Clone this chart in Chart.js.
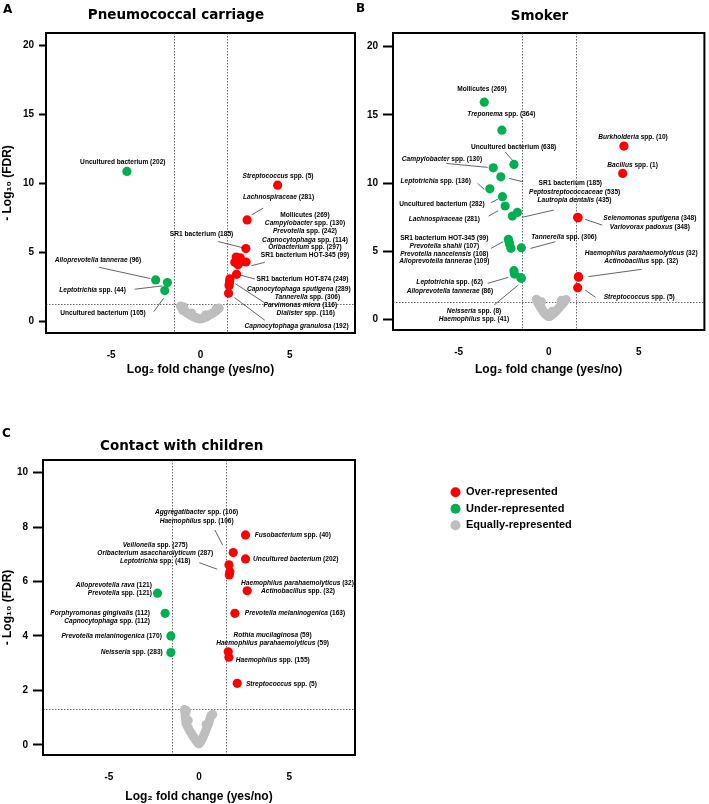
<!DOCTYPE html>
<html>
<head>
<meta charset="utf-8">
<script src="https://cdn.jsdelivr.net/npm/chart.js@4.4.0/dist/chart.umd.min.js"></script>
<style>
  body { margin: 0; background: #fff; width: 709px; height: 804px; position: relative; overflow: hidden; }
  canvas { position: absolute; }
</style>
</head>
<body>
<canvas id="chartA" width="360" height="380" style="left:0;top:0"></canvas>
<canvas id="chartB" width="359" height="380" style="left:350px;top:0"></canvas>
<canvas id="chartC" width="709" height="414" style="left:0;top:390px"></canvas>
<script>
// tick labels and thresholds
const X_TICKS = [-5, 0, 5];
const Y_TICKS_AB = [0, 5, 10, 15, 20];
const Y_TICKS_C = [0, 2, 4, 6, 8, 10];
const FC_CUT = 1.5;      // |log2 fold change|
const FDR_CUT = 1.301;   // -log10(0.05)
const SERIES = ['Equally-represented', 'Under-represented', 'Over-represented'];

// A: pneumococcal carriage  [log2 FC, -log10 FDR]
const carriageOver = [[4.32, 9.88], [2.61, 7.37], [2.54, 5.29], [2.0, 4.68], [2.22, 4.62], [1.92, 4.3],
  [2.3, 4.35], [2.55, 4.32], [2.1, 4.12], [2.02, 3.43], [1.65, 3.1], [1.63, 2.95], [1.61, 2.72],
  [1.6, 2.6], [1.57, 2.06]];
const carriageUnder = [[-4.12, 10.88], [-2.51, 3.02], [-1.85, 2.83], [-2.0, 2.25]];
const carriageEqual = [[-1.12, 1.12], [-1.05, 1.02], [-0.98, 0.95], [-1.0, 0.82], [-0.9, 0.86], [-0.85, 0.72],
  [-0.78, 0.66], [-0.7, 0.6], [-0.62, 0.52], [-0.55, 0.48], [-0.48, 0.42], [-0.4, 0.37], [-0.32, 0.32],
  [-0.25, 0.28], [-0.18, 0.25], [-0.1, 0.22], [-0.03, 0.2], [0.05, 0.21], [0.12, 0.24], [0.2, 0.28],
  [0.28, 0.32], [0.36, 0.38], [0.44, 0.44], [0.52, 0.5], [0.6, 0.56], [0.68, 0.62], [0.76, 0.68],
  [0.84, 0.76], [0.92, 0.84], [0.98, 0.92], [1.04, 0.98], [0.9, 0.95], [-0.95, 1.08], [0.3, 0.5], [-0.5, 0.62]];

// B: smoker
const smokerOver = [[4.18, 12.71], [4.11, 10.71], [1.61, 7.49], [1.63, 7.45], [1.65, 3.14], [1.66, 3.1], [1.61, 2.33]];
const smokerUnder = [[-3.58, 15.93], [-2.6, 13.88], [-1.93, 11.37], [-3.08, 11.12], [-2.66, 10.46], [-3.27, 9.58],
  [-2.57, 9.0], [-2.42, 8.32], [-1.74, 7.85], [-2.02, 7.58], [-2.24, 5.88], [-2.2, 5.68], [-2.17, 5.5],
  [-2.1, 5.22], [-1.52, 5.26], [-1.93, 3.58], [-1.9, 3.33], [-1.55, 3.08], [-1.52, 3.02]];
const smokerEqual = [[-0.68, 1.48], [-0.62, 1.38], [-0.6, 1.25], [-0.55, 1.12], [-0.5, 1.0], [-0.45, 0.9],
  [-0.4, 0.8], [-0.35, 0.7], [-0.3, 0.6], [-0.25, 0.5], [-0.2, 0.42], [-0.14, 0.35], [-0.08, 0.28],
  [-0.02, 0.22], [0.05, 0.22], [0.12, 0.28], [0.2, 0.36], [0.28, 0.45], [0.36, 0.55], [0.44, 0.66],
  [0.52, 0.78], [0.6, 0.9], [0.68, 1.02], [0.76, 1.14], [0.84, 1.26], [0.9, 1.38], [0.96, 1.46],
  [0.7, 1.4], [-0.4, 1.3], [0.2, 0.6]];

// C: contact with children
const contactOver = [[2.58, 7.71], [1.9, 7.06], [2.58, 6.83], [1.66, 6.61], [1.71, 6.36], [1.68, 6.24],
  [2.67, 5.66], [1.99, 4.83], [1.62, 3.42], [1.66, 3.22], [2.12, 2.26]];
const contactUnder = [[-2.3, 5.57], [-1.88, 4.83], [-1.56, 4.0], [-1.56, 3.39]];
const contactEqual = [[-0.8, 1.3], [-0.78, 1.18], [-0.76, 1.05], [-0.74, 0.92], [-0.72, 0.8], [-0.66, 0.7],
  [-0.58, 0.6], [-0.5, 0.5], [-0.42, 0.42], [-0.35, 0.34], [-0.28, 0.27], [-0.2, 0.2], [-0.13, 0.13],
  [-0.06, 0.07], [0, 0.04], [0.06, 0.08], [0.12, 0.15], [0.18, 0.23], [0.24, 0.31], [0.3, 0.4],
  [0.36, 0.5], [0.42, 0.6], [0.48, 0.7], [0.54, 0.8], [0.58, 0.9], [0.62, 1.0], [0.68, 1.08],
  [0.76, 1.12], [-0.7, 1.25], [-0.6, 0.9], [0.4, 0.75]];

// annotation text (_italic_), placed in data units: [text, x, y, align]
const carriageNotes = [
  ['Uncultured bacterium (202)', -4.35, 11.55, 'c'],
  ['_Streptococcus_ spp. (5)', 4.34, 10.5, 'c'],
  ['_Lachnospiraceae_ (281)', 4.37, 9.01, 'c'],
  ['Mollicutes (269)', 5.85, 7.73, 'c'],
  ['_Campylobacter_ spp. (130)', 5.85, 7.13, 'c'],
  ['_Prevotella_ spp. (242)', 5.85, 6.52, 'c'],
  ['_Capnocytophaga_ spp. (114)', 5.85, 5.92, 'c'],
  ['_Oribacterium_ spp. (297)', 5.85, 5.36, 'c'],
  ['SR1 bacterium HOT-345 (99)', 5.85, 4.78, 'c'],
  ['SR1 bacterium (185)', 0.06, 6.36, 'c'],
  ['SR1 bacterium HOT-874 (249)', 5.71, 3.07, 'c'],
  ['_Capnocytophaga sputigena_ (289)', 5.5, 2.35, 'c'],
  ['_Tannerella_ spp. (306)', 5.99, 1.77, 'c'],
  ['_Parvimonas micra_ (116)', 5.59, 1.16, 'c'],
  ['_Dialister_ spp. (116)', 5.89, 0.61, 'c'],
  ['_Capnocytophaga granulosa_ (192)', 5.38, -0.36, 'c'],
  ['_Alloprevotella tannerae_ (96)', -5.74, 4.47, 'c'],
  ['_Leptotrichia_ spp. (44)', -6.04, 2.3, 'c'],
  ['Uncultured bacterium (105)', -5.46, 0.65, 'c']
];
const carriageLeaders = [[2.86, 7.73, 3.51, 8.22], [2.85, 4.05, 3.6, 4.3], [0.99, 5.8, 2.48, 5.32],
  [2.2, 3.38, 3.05, 3.09], [1.95, 2.75, 3.55, 1.4], [1.9, 1.75, 3.6, 0.1],
  [-5.69, 3.94, -2.8, 3.12], [-3.68, 2.35, -2.13, 2.59], [-2.62, 0.72, -2.06, 1.7]];

const smokerNotes = [
  ['Mollicutes (269)', -3.71, 16.86, 'c'],
  ['_Treponema_ spp. (364)', -2.63, 15.05, 'c'],
  ['Uncultured bacterium (638)', -1.95, 12.61, 'c'],
  ['_Campylobacter_ spp. (130)', -5.93, 11.74, 'c'],
  ['_Leptotrichia_ spp. (136)', -6.28, 10.17, 'c'],
  ['SR1 bacterium (185)', 1.2, 9.98, 'c'],
  ['_Peptostreptococcaceae_ (535)', 1.44, 9.34, 'c'],
  ['_Lautropia dentalis_ (435)', 1.43, 8.75, 'c'],
  ['Uncultured bacterium (282)', -5.93, 8.46, 'c'],
  ['_Lachnospiraceae_ (281)', -5.8, 7.34, 'c'],
  ['SR1 bacterium HOT-345 (99)', -5.8, 5.99, 'c'],
  ['_Prevotella shahii_ (107)', -5.8, 5.41, 'c'],
  ['_Prevotella nancelensis_ (108)', -5.8, 4.8, 'c'],
  ['_Alloprevotella tannerae_ (109)', -5.8, 4.24, 'c'],
  ['_Tannerella_ spp. (306)', 0.85, 6.02, 'c'],
  ['_Leptotrichia_ spp. (62)', -5.5, 2.7, 'c'],
  ['_Alloprevotella tannerae_ (86)', -5.49, 2.09, 'c'],
  ['_Neisseria_ spp. (8)', -4.15, 0.62, 'c'],
  ['_Haemophilus_ spp. (41)', -4.15, 0.01, 'c'],
  ['_Burkholderia_ spp. (10)', 4.68, 13.35, 'c'],
  ['_Bacillus_ spp. (1)', 4.66, 11.34, 'c'],
  ['_Selenomonas sputigena_ (348)', 5.62, 7.41, 'c'],
  ['_Variovorax padoxus_ (348)', 5.62, 6.8, 'c'],
  ['_Haemophilus parahaemolyticus_ (32)', 5.14, 4.89, 'c'],
  ['_Actinobacillus_ spp. (32)', 5.14, 4.31, 'c'],
  ['_Streptococcus_ spp. (5)', 5.03, 1.67, 'c']
];
const smokerLeaders = [[-2.42, 12.29, -2.02, 11.68], [-5.69, 11.44, -3.39, 11.15], [-3.95, 9.98, -3.58, 9.54],
  [-2.2, 10.34, -1.43, 10.1], [-1.47, 7.49, 0.28, 8.02], [-3.21, 8.56, -2.81, 8.83], [-3.34, 7.58, -2.81, 7.97],
  [-3.21, 5.21, -2.53, 5.7], [-1.01, 5.21, 0.37, 5.7], [-3.39, 2.65, -2.24, 3.09], [-3.03, 1.06, -1.69, 2.53],
  [2.02, 7.34, 2.97, 6.92], [2.2, 3.14, 5.17, 3.68], [2.02, 2.16, 2.6, 1.63]];

const contactNotes = [
  ['_Aggregatibacter_ spp. (106)', -0.13, 8.53, 'c'],
  ['_Haemophilus_ spp. (106)', -0.13, 8.23, 'c'],
  ['_Fusobacterium_ spp. (40)', 3.09, 7.71, 'l'],
  ['_Uncultured bacterium_ (202)', 3.0, 6.81, 'l'],
  ['_Veillonella_ spp. (275)', -2.43, 7.34, 'c'],
  ['_Oribacterium asaccharolyticum_ (287)', -2.43, 7.03, 'c'],
  ['_Leptotrichia_ spp. (418)', -2.43, 6.73, 'c'],
  ['_Haemophilus parahaemolyticus_ (32)', 5.46, 5.93, 'c'],
  ['_Actinobacillus_ spp. (32)', 5.49, 5.65, 'c'],
  ['_Prevotella melaninogenica_ (163)', 2.54, 4.83, 'l'],
  ['_Rothia mucilaginosa_ (59)', 4.08, 4.04, 'c'],
  ['_Haemophilus parahaemolyticus_ (59)', 4.08, 3.73, 'c'],
  ['_Haemophilus_ spp. (155)', 2.04, 3.12, 'l'],
  ['_Streptococcus_ spp. (5)', 2.6, 2.24, 'l'],
  ['_Alloprevotella rava_ (121)', -2.61, 5.87, 'r'],
  ['_Prevotella_ spp. (121)', -2.61, 5.57, 'r'],
  ['_Porphyromonas gingivalis_ (112)', -2.72, 4.85, 'r'],
  ['_Capnocytophaga_ spp. (112)', -2.72, 4.56, 'r'],
  ['_Prevotella melaninogenica_ (170)', -2.06, 4.0, 'r'],
  ['_Neisseria_ spp. (283)', -2.01, 3.39, 'r']
];
const contactLeaders = [[0.88, 7.89, 1.31, 7.34], [0.02, 6.69, 1.01, 6.45]];

const COLORS = ['#bebebe', '#00b050', '#ff0000'];
const FONT = '"Liberation Sans", Arial, sans-serif';
const NOTE_SIZE = 6.6;

Chart.defaults.font.family = FONT;
Chart.defaults.color = '#000';

function drawRich(ctx, text, x, y, align) {
  const parts = text.split('_');
  const fonts = parts.map((p, i) => (i % 2 ? 'italic ' : '') + 'bold ' + NOTE_SIZE + 'px ' + FONT);
  const widths = parts.map((p, i) => { ctx.font = fonts[i]; return ctx.measureText(p).width; });
  const total = widths.reduce((s, w) => s + w, 0);
  let cx = align === 'r' ? x - total : align === 'c' ? x - total / 2 : x;
  parts.forEach((p, i) => { ctx.font = fonts[i]; ctx.fillText(p, cx, y); cx += widths[i]; });
}

const volcanoDecor = {
  id: 'volcanoDecor',
  beforeDatasetsDraw(chart, args, o) {
    const { ctx, chartArea: a, scales: { x, y } } = chart;
    ctx.save();
    ctx.strokeStyle = '#444';
    ctx.lineWidth = 0.8;
    ctx.setLineDash([1.5, 1.5]);
    ctx.beginPath();
    [-FC_CUT, FC_CUT].forEach(v => {
      const px = Math.round(x.getPixelForValue(v)) + 0.5;
      ctx.moveTo(px, a.top);
      ctx.lineTo(px, a.bottom);
    });
    const py = Math.round(y.getPixelForValue(FDR_CUT)) + 0.5;
    ctx.moveTo(a.left, py);
    ctx.lineTo(a.right, py);
    ctx.stroke();
    ctx.restore();
  },
  afterDatasetsDraw(chart, args, o) {
    const { ctx, scales: { x, y } } = chart;
    ctx.save();
    ctx.strokeStyle = '#222';
    ctx.lineWidth = 0.7;
    ctx.beginPath();
    o.leaders.forEach(([x1, y1, x2, y2]) => {
      ctx.moveTo(x.getPixelForValue(x1), y.getPixelForValue(y1));
      ctx.lineTo(x.getPixelForValue(x2), y.getPixelForValue(y2));
    });
    ctx.stroke();
    ctx.fillStyle = '#000';
    ctx.textBaseline = 'middle';
    ctx.textAlign = 'left';
    o.notes.forEach(([t, nx, ny, al]) => drawRich(ctx, t, x.getPixelForValue(nx), y.getPixelForValue(ny), al));
    ctx.restore();
  },
  afterDraw(chart, args, o) {
    const { ctx, chartArea: a } = chart;
    ctx.save();
    ctx.strokeStyle = '#000';
    ctx.lineWidth = 2;
    ctx.strokeRect(a.left, a.top, a.width, a.height);
    ctx.fillStyle = '#000';
    ctx.textBaseline = 'alphabetic';
    ctx.textAlign = 'center';
    ctx.font = 'bold 13.5px "DejaVu Sans", sans-serif';
    ctx.fillText(o.title, o.titleX, o.titleY);
    ctx.textAlign = 'left';
    ctx.font = 'bold 12px "DejaVu Sans", sans-serif';
    ctx.fillText(o.letter, o.letterX, o.letterY);
    if (o.legend) {
      ctx.font = 'bold 11px ' + FONT;
      ctx.textBaseline = 'middle';
      chart.data.datasets.slice().reverse().forEach((ds, i) => {
        const cy = o.legend.y + i * 16.5;
        ctx.fillStyle = ds.pointBackgroundColor;
        ctx.beginPath();
        ctx.arc(o.legend.x, cy, 5, 0, Math.PI * 2);
        ctx.fill();
        ctx.fillStyle = '#000';
        ctx.fillText(ds.label, o.legend.x + 10.5, cy);
      });
    }
    ctx.restore();
  }
};

function toPts(arr) { return arr.map(([x, y]) => ({ x, y })); }

function volcano(id, p) {
  const groups = [p.equal, p.under, p.over];
  return new Chart(document.getElementById(id), {
    type: 'scatter',
    data: {
      datasets: groups.map((g, i) => ({
        label: SERIES[i],
        data: toPts(g),
        pointBackgroundColor: COLORS[i],
        pointBorderColor: COLORS[i],
        pointBorderWidth: 0,
        pointRadius: 4.6
      }))
    },
    options: {
      responsive: false,
      animation: false,
      devicePixelRatio: 1,
      layout: { padding: { top: p.top, right: p.right, left: 0, bottom: 0 } },
      plugins: {
        legend: { display: false },
        tooltip: { enabled: false },
        volcanoDecor: {
          notes: p.notes, leaders: p.leaders, title: p.title, titleX: p.titleX, titleY: p.titleY,
          letter: p.letter, letterX: p.letterX, letterY: p.letterY, legend: p.legend
        }
      },
      scales: {
        x: {
          type: 'linear', min: -8.65, max: 8.65,
          afterBuildTicks: s => { s.ticks = X_TICKS.map(v => ({ value: v })); },
          afterFit: s => { s.height = p.xH; },
          grid: { display: false },
          border: { display: false },
          ticks: { padding: 8, font: { size: 10, weight: 'bold' } },
          title: {
            display: true, text: 'Log₂ fold change (yes/no)', color: '#000',
            font: { size: 12, weight: 'bold' }, padding: { top: 0, bottom: p.xTitlePad }
          }
        },
        y: {
          type: 'linear', min: p.yMin, max: p.yMax,
          afterBuildTicks: s => { s.ticks = p.yTicks.map(v => ({ value: v })); },
          afterFit: s => { s.width = p.yW; },
          grid: { drawOnChartArea: false, tickLength: p.tick, tickWidth: 2, tickColor: '#000', color: '#000' },
          border: { display: false },
          ticks: { padding: 5, font: { size: 10, weight: 'bold' } },
          title: {
            display: p.yTitle, text: '- Log₁₀ (FDR)', color: '#000',
            font: { size: 12, weight: 'bold' }, padding: { top: 0, bottom: 0 }
          }
        }
      }
    },
    plugins: [volcanoDecor]
  });
}

volcano('chartA', {
  over: carriageOver, under: carriageUnder, equal: carriageEqual,
  notes: carriageNotes, leaders: carriageLeaders,
  yMin: -0.82, yMax: 20.9, yTicks: Y_TICKS_AB,
  top: 33, right: 5, yW: 46, xH: 47, xTitlePad: 2.8, tick: 7, yTitle: true,
  title: 'Pneumococcal carriage', titleX: 176, titleY: 19, letter: 'A', letterX: 3, letterY: 12.5
});

volcano('chartB', {
  over: smokerOver, under: smokerUnder, equal: smokerEqual,
  notes: smokerNotes, leaders: smokerLeaders,
  yMin: -0.77, yMax: 21.0, yTicks: Y_TICKS_AB,
  top: 33, right: 2, yW: 43, xH: 50, xTitlePad: 2.8, tick: 10, yTitle: false,
  title: 'Smoker', titleX: 189.5, titleY: 20, letter: 'B', letterX: 6, letterY: 12
});

volcano('chartC', {
  over: contactOver, under: contactUnder, equal: contactEqual,
  notes: contactNotes, leaders: contactLeaders,
  yMin: -0.37, yMax: 10.46, yTicks: Y_TICKS_C,
  top: 70, right: 354, yW: 43, xH: 49, xTitlePad: 0, tick: 10, yTitle: true,
  title: 'Contact with children', titleX: 181.7, titleY: 60, letter: 'C', letterX: 2, letterY: 47,
  legend: { x: 455.5, y: 102.3 }
});
</script>
</body>
</html>
